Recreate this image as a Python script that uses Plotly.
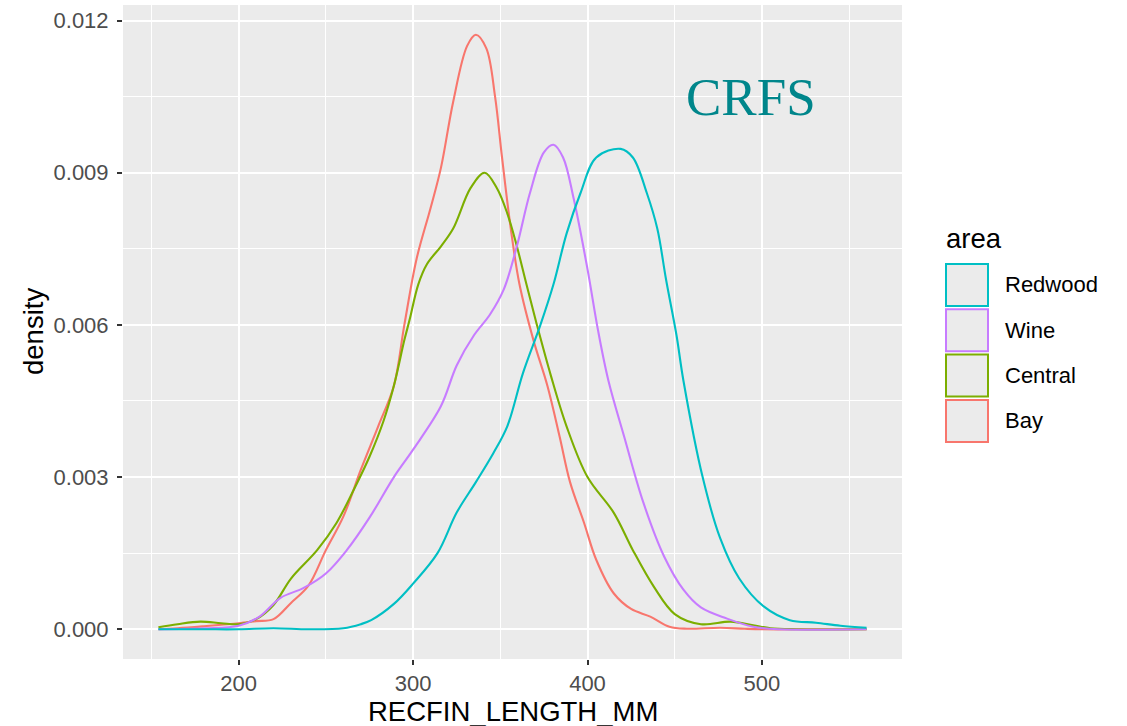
import plotly.graph_objects as go

# ---------------- data ----------------
areas = ["Redwood", "Wine", "Central", "Bay"]
colors = {"Redwood": "#00BFC4", "Wine": "#C77CFF", "Central": "#7CAE00", "Bay": "#F8766D"}

bay_x = [154, 165, 180, 190, 200, 210, 220, 230, 240, 250, 260, 270, 280, 289, 295, 302, 310,
         316, 323, 331, 336, 342, 347, 351, 356, 361, 369, 377, 384, 390, 398, 405, 415,
         425, 436, 447, 457, 476, 490, 500, 530, 560]
bay_y = [0.0, 0.00002, 0.00006, 0.00009, 0.00012, 0.00016, 0.0002, 0.00052, 0.00086, 0.00156,
         0.00222, 0.00314, 0.0040, 0.0048, 0.0060, 0.0073, 0.0083, 0.0091, 0.0104, 0.0115,
         0.01172, 0.01145, 0.0105, 0.0093, 0.0079, 0.0068, 0.0057, 0.0048, 0.0038,
         0.0029, 0.0021, 0.00137, 0.00071, 0.00040, 0.00025, 0.00005, 0.00001, 0.00003,
         0.00001, 0.0, 0.0, 0.0]

central_x = [154, 165, 178, 190, 200, 210, 220, 230, 245, 256, 266, 275, 283, 289, 295, 298,
             303, 308, 316, 323, 333, 341, 348, 354, 359.5, 365, 371, 379, 388, 400, 415,
             426, 438, 450, 465, 482, 495, 505, 520, 560]
central_y = [0.00004, 0.0001, 0.00015, 0.00012, 0.0001, 0.0002, 0.00048, 0.0010, 0.00156,
             0.00209, 0.00275, 0.0034, 0.0041, 0.0048, 0.0057, 0.0061, 0.0068, 0.0072, 0.00755,
             0.0079, 0.0087, 0.0090, 0.0087, 0.0082, 0.00755, 0.0068, 0.0060, 0.0050, 0.0040,
             0.0030, 0.0023, 0.00156, 0.00084, 0.0003, 0.0001, 0.00015, 0.00008,
             0.00002, 0.0, 0.0]

wine_x = [154, 180, 200, 212, 224, 237, 250, 262, 275, 289, 300, 316, 325, 335, 344, 352,
          359.5, 367, 375, 380.5, 386, 392, 400, 406, 412, 421, 432, 444, 455, 465, 480, 495,
          510, 560]
wine_y = [0.0, 0.00002, 0.00007, 0.00025, 0.00062, 0.00081, 0.0011, 0.00156, 0.0022, 0.0030,
          0.00354, 0.0044, 0.0052, 0.0058, 0.0062, 0.0067, 0.00755, 0.0086, 0.0094, 0.00955,
          0.0093, 0.0085, 0.0071, 0.0059, 0.0049, 0.0038, 0.0025, 0.00143, 0.00078,
          0.00043, 0.00021, 0.00005, 0.0, 0.0]

redwood_x = [154, 180, 200, 220, 240, 260, 270, 276, 289, 300, 314, 325, 336, 346, 354, 363,
             373, 380.5, 388, 396, 405, 419, 426, 434, 440, 445, 451, 455, 466, 476,
             487, 501, 516, 531, 545, 560]
redwood_y = [0.0, 0.0, 0.0, 0.00002, 0.0, 0.00002, 0.0001, 0.00018, 0.0005, 0.0009, 0.0015,
             0.0023, 0.0029, 0.00347, 0.0040, 0.00505, 0.0060, 0.0068, 0.0078, 0.0086, 0.0093,
             0.00947, 0.0093, 0.0086, 0.0079, 0.0069, 0.0058, 0.0049, 0.0030,
             0.0018, 0.0010, 0.00045, 0.00018, 0.00013, 0.00007, 0.00003]

series = {
    "Redwood": (redwood_x, redwood_y),
    "Wine": (wine_x, wine_y),
    "Central": (central_x, central_y),
    "Bay": (bay_x, bay_y),
}

x_ticks = [200, 300, 400, 500]
y_ticks = [0.0, 0.003, 0.006, 0.009, 0.012]
y_tick_text = ["0.000", "0.003", "0.006", "0.009", "0.012"]

# ---------------- figure ----------------
W, H = 1127, 726
ML, MR, MT, MB = 123, 225, 5, 67
FONT = "Liberation Sans, Arial, sans-serif"

fig = go.Figure()
# draw order like ggplot (factor order Bay, Central, Wine, Redwood)
for name in ["Bay", "Central", "Wine", "Redwood"]:
    xs, ys = series[name]
    fig.add_trace(go.Scatter(x=xs, y=ys, mode="lines", name=name,
                             line=dict(color=colors[name], width=2.1, shape="spline", smoothing=1.0),
                             showlegend=False, hoverinfo="skip"))

allx = [v for k in series for v in series[k][0]]
ally = [v for k in series for v in series[k][1]]
xmin, xmax = min(allx), max(allx)
ymin, ymax = min(ally), max(ally)
xpad = (xmax - xmin) * 0.05
ypad = (ymax - ymin) * 0.05

fig.update_layout(
    width=W, height=H,
    margin=dict(l=ML, r=MR, t=MT, b=MB, pad=0),
    paper_bgcolor="white", plot_bgcolor="#EBEBEB",
    font=dict(family=FONT, size=22, color="#4D4D4D"),
    showlegend=False,
    xaxis=dict(range=[xmin - xpad, xmax + xpad], tickvals=x_ticks, ticktext=[str(v) for v in x_ticks],
               showgrid=True, gridcolor="white", gridwidth=1.6, zeroline=False,
               ticks="outside", ticklen=5, tickwidth=1.6, tickcolor="#333333",
               tickfont=dict(size=22, color="#4D4D4D"),
               minor=dict(dtick=50, tick0=0, showgrid=True, gridcolor="white", gridwidth=0.8, ticks=""),
               showline=False, fixedrange=True),
    yaxis=dict(range=[ymin - ypad, ymax + ypad], tickvals=y_ticks, ticktext=y_tick_text,
               showgrid=True, gridcolor="white", gridwidth=1.6, zeroline=False,
               ticks="outside", ticklen=5, tickwidth=1.6, tickcolor="#333333",
               tickfont=dict(size=22, color="#4D4D4D"), ticklabelstandoff=4,
               minor=dict(dtick=0.0015, tick0=0, showgrid=True, gridcolor="white", gridwidth=0.8, ticks=""),
               showline=False, fixedrange=True),
)

pw = W - ML - MR
ph = H - MT - MB

def px_to_paper_x(px):
    return (px - ML) / pw

def px_to_paper_y(py):
    return (H - MB - py) / ph

annotations = []
# axis titles
annotations.append(dict(text="RECFIN_LENGTH_MM", xref="paper", yref="paper", x=0.5, y=0,
                        xanchor="center", yanchor="middle", yshift=-52, showarrow=False,
                        font=dict(family=FONT, size=27.5, color="black")))
annotations.append(dict(text="density", xref="paper", yref="paper", x=0, y=0.5, textangle=-90,
                        xanchor="center", yanchor="middle", xshift=-90, showarrow=False,
                        font=dict(family=FONT, size=27.5, color="black")))
# CRFS label
annotations.append(dict(text="CRFS", xref="x", yref="y", x=494, y=0.0105, showarrow=False,
                        xanchor="center", yanchor="middle",
                        font=dict(family="Liberation Serif, DejaVu Serif, serif", size=53, color="#00868B")))

# legend (ggplot-style boxes)
leg_left = 946
key_w = 42
key_h = 42
key_top0 = 264
key_step = 45.3
annotations.append(dict(text="area", xref="paper", yref="paper", x=px_to_paper_x(leg_left - 2),
                        y=px_to_paper_y(238), xanchor="left", yanchor="middle", showarrow=False,
                        font=dict(family=FONT, size=27.5, color="black")))
shapes = []
for i, name in enumerate(areas):
    top = key_top0 + i * key_step
    shapes.append(dict(type="rect", xref="paper", yref="paper",
                       x0=px_to_paper_x(leg_left), x1=px_to_paper_x(leg_left + key_w),
                       y0=px_to_paper_y(top + key_h), y1=px_to_paper_y(top),
                       fillcolor="#EBEBEB", line=dict(color=colors[name], width=2)))
    annotations.append(dict(text=name, xref="paper", yref="paper", x=px_to_paper_x(1003),
                            y=px_to_paper_y(top + key_h / 2), xanchor="left", yanchor="middle",
                            showarrow=False, font=dict(family=FONT, size=22, color="black")))

fig.update_layout(annotations=annotations, shapes=shapes)
fig.write_html("out.html")
